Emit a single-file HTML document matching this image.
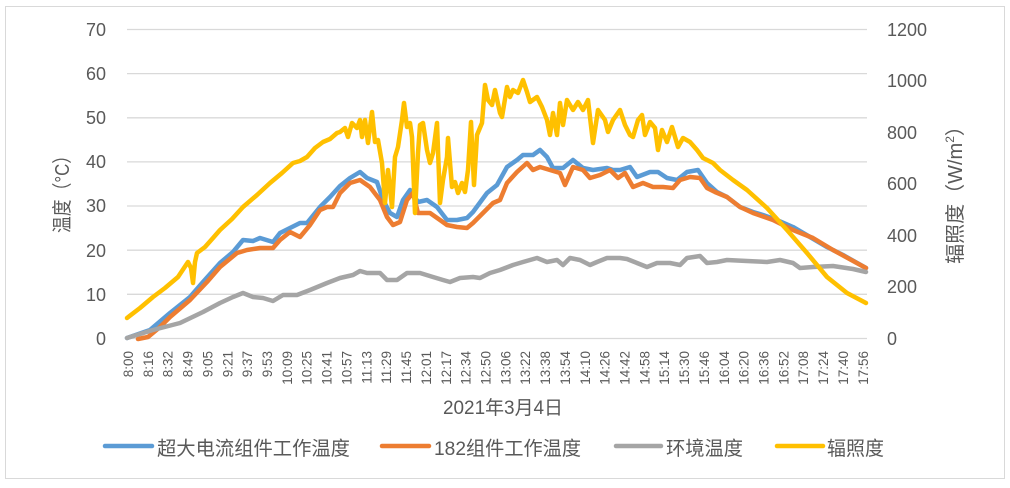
<!DOCTYPE html>
<html><head><meta charset="utf-8"><style>
html,body{margin:0;padding:0;background:#fff;}
svg{display:block;}
text{font-family:"Liberation Sans","Noto Sans CJK SC",sans-serif;fill:#595959;}
</style></head><body>
<svg width="1010" height="488" viewBox="0 0 1010 488" xmlns="http://www.w3.org/2000/svg">
<rect x="5.5" y="6.5" width="999" height="472" fill="#fff" stroke="#d9d9d9" stroke-width="1"/>
<g stroke="#d9d9d9" stroke-width="1.3">
<line x1="127" x2="867" y1="29.5" y2="29.5"/>
<line x1="127" x2="867" y1="73.6" y2="73.6"/>
<line x1="127" x2="867" y1="117.8" y2="117.8"/>
<line x1="127" x2="867" y1="161.9" y2="161.9"/>
<line x1="127" x2="867" y1="206" y2="206"/>
<line x1="127" x2="867" y1="250.2" y2="250.2"/>
<line x1="127" x2="867" y1="294.3" y2="294.3"/>
<line x1="127" x2="867" y1="338.5" y2="338.5"/>
</g>
<g font-size="18" text-anchor="end">
<text x="106" y="36">70</text>
<text x="106" y="80">60</text>
<text x="106" y="124">50</text>
<text x="106" y="168">40</text>
<text x="106" y="212">30</text>
<text x="106" y="257">20</text>
<text x="106" y="301">10</text>
<text x="106" y="345">0</text>
</g>
<g font-size="18" text-anchor="start">
<text x="887" y="36">1200</text>
<text x="887" y="87">1000</text>
<text x="887" y="139">800</text>
<text x="887" y="190">600</text>
<text x="887" y="242">400</text>
<text x="887" y="293">200</text>
<text x="887" y="345">0</text>
</g>
<text transform="translate(69,190) rotate(-90)" font-size="20" text-anchor="middle" textLength="86" lengthAdjust="spacingAndGlyphs">温度（°C）</text>
<text transform="translate(962,190) rotate(-90)" font-size="20" text-anchor="middle">辐照度（W/m<tspan font-size="12" dy="-8">2</tspan><tspan dy="8">）</tspan></text>
<g font-size="13.5" text-anchor="end">
<text transform="translate(133,351) rotate(-90)">8:00</text>
<text transform="translate(152.9,351) rotate(-90)">8:16</text>
<text transform="translate(172.7,351) rotate(-90)">8:32</text>
<text transform="translate(192.6,351) rotate(-90)">8:49</text>
<text transform="translate(212.4,351) rotate(-90)">9:05</text>
<text transform="translate(232.3,351) rotate(-90)">9:21</text>
<text transform="translate(252.2,351) rotate(-90)">9:37</text>
<text transform="translate(272,351) rotate(-90)">9:53</text>
<text transform="translate(291.9,351) rotate(-90)">10:09</text>
<text transform="translate(311.7,351) rotate(-90)">10:25</text>
<text transform="translate(331.6,351) rotate(-90)">10:41</text>
<text transform="translate(351.5,351) rotate(-90)">10:57</text>
<text transform="translate(371.3,351) rotate(-90)">11:13</text>
<text transform="translate(391.2,351) rotate(-90)">11:29</text>
<text transform="translate(411,351) rotate(-90)">11:45</text>
<text transform="translate(430.9,351) rotate(-90)">12:01</text>
<text transform="translate(450.8,351) rotate(-90)">12:17</text>
<text transform="translate(470.6,351) rotate(-90)">12:34</text>
<text transform="translate(490.5,351) rotate(-90)">12:50</text>
<text transform="translate(510.3,351) rotate(-90)">13:06</text>
<text transform="translate(530.2,351) rotate(-90)">13:22</text>
<text transform="translate(550.1,351) rotate(-90)">13:38</text>
<text transform="translate(569.9,351) rotate(-90)">13:54</text>
<text transform="translate(589.8,351) rotate(-90)">14:10</text>
<text transform="translate(609.6,351) rotate(-90)">14:26</text>
<text transform="translate(629.5,351) rotate(-90)">14:42</text>
<text transform="translate(649.4,351) rotate(-90)">14:58</text>
<text transform="translate(669.2,351) rotate(-90)">15:14</text>
<text transform="translate(689.1,351) rotate(-90)">15:30</text>
<text transform="translate(708.9,351) rotate(-90)">15:46</text>
<text transform="translate(728.8,351) rotate(-90)">16:04</text>
<text transform="translate(748.7,351) rotate(-90)">16:20</text>
<text transform="translate(768.5,351) rotate(-90)">16:36</text>
<text transform="translate(788.4,351) rotate(-90)">16:52</text>
<text transform="translate(808.2,351) rotate(-90)">17:08</text>
<text transform="translate(828.1,351) rotate(-90)">17:24</text>
<text transform="translate(848,351) rotate(-90)">17:40</text>
<text transform="translate(867.8,351) rotate(-90)">17:56</text>
</g>
<text x="503" y="414" font-size="19" text-anchor="middle" textLength="120" lengthAdjust="spacingAndGlyphs">2021年3月4日</text>
<g fill="none" stroke-width="4.5" stroke-linejoin="round" stroke-linecap="round">
<polyline stroke="#5B9BD5" points="127,338 150,330 170,313 190,297 203,282 220,263 233,252 243,240 253,241 260,238 273,242 280,233 290,228 300,223 307,223 320,207 330,197 340,186 350,178 360,172 367,178 377,182 383,200 390,213 397,217 403,200 410,190 418,202 427,200 437,207 447,220 457,220 467,218 473,212 487,193 497,185 507,167 517,160 523,155 533,155 540,150 547,157 553,168 563,168 573,160 583,168 593,170 607,168 613,170 620,170 630,167 637,177 650,172 658,172 667,178 677,180 687,172 698,170 707,183 717,192 727,197 740,207 753,212 763,215 777,220 793,227 810,237 827,247 843,255 866,268"/>
<polyline stroke="#ED7D31" points="138,339 148,337 160,327 170,317 190,300 207,282 220,267 237,253 247,250 260,248 273,248 280,240 290,232 300,237 310,225 320,210 327,207 333,207 340,193 350,183 360,180 370,187 380,200 387,217 393,225 400,222 407,200 413,193 418,213 430,213 440,220 447,225 457,227 467,228 473,223 483,213 493,203 500,200 507,183 517,172 527,163 533,170 540,167 550,170 560,173 565,185 573,167 583,170 590,178 600,175 610,170 618,178 625,173 633,187 643,183 653,187 663,187 673,188 680,180 690,177 700,178 707,188 715,192 727,197 740,207 753,213 773,220 793,230 813,238 833,250 866,268"/>
<polyline stroke="#A5A5A5" points="127,338 153,330 180,323 203,312 220,303 233,297 243,293 253,297 263,298 273,301 283,295 297,295 310,290 327,283 340,278 353,275 360,271 367,273 380,273 387,280 397,280 407,273 420,273 433,277 443,280 450,282 460,278 473,277 480,278 490,273 500,270 513,265 523,262 537,258 547,262 557,260 563,265 570,258 580,260 590,265 597,262 607,258 620,258 627,259 637,263 647,267 657,263 670,263 680,265 687,258 700,256 707,263 717,262 727,260 747,261 767,262 780,260 793,263 800,268 813,267 833,266 853,269 866,272"/>
<polyline stroke="#FFC000" points="127,318 140,308 153,297 165,288 178,277 188,262 191,268 193,283 195,262 197,253 205,247 213,238 220,230 232,219 243,207 257,195 270,183 282,173 293,163 300,161 307,157 315,148 323,142 330,139 337,133 340,132 345,128 348,137 352,123 357,128 360,120 362,137 365,120 368,143 372,112 375,142 378,140 382,163 385,203 388,170 392,207 395,157 398,147 402,120 404,103 407,127 410,123 412,137 415,213 418,153 420,125 423,123 427,150 430,163 433,153 437,123 440,203 443,180 447,157 448,138 452,187 455,182 458,193 462,183 465,192 468,170 471,122 474,185 477,135 482,123 485,85 488,100 492,105 495,90 500,113 502,117 507,87 510,97 513,90 518,93 523,80 527,92 530,102 537,97 542,107 547,120 550,135 553,113 557,135 560,103 563,125 567,100 573,110 578,102 583,110 588,100 593,143 598,110 605,120 608,132 613,120 620,110 625,125 630,135 633,137 638,120 642,115 645,135 650,122 655,128 658,150 662,130 667,142 672,127 678,147 683,138 690,142 697,150 703,158 713,163 720,170 733,180 747,190 767,208 787,230 807,253 827,277 847,293 866,303"/>
</g>
<g stroke-width="4.5" stroke-linecap="round">
<line x1="105" x2="152" y1="446" y2="446" stroke="#5B9BD5"/>
<line x1="382" x2="429" y1="446" y2="446" stroke="#ED7D31"/>
<line x1="616" x2="661" y1="446" y2="446" stroke="#A5A5A5"/>
<line x1="777" x2="823" y1="446" y2="446" stroke="#FFC000"/>
</g>
<g font-size="19.5">
<text x="157" y="455" textLength="193" lengthAdjust="spacingAndGlyphs">超大电流组件工作温度</text>
<text x="434" y="455" textLength="147" lengthAdjust="spacingAndGlyphs">182组件工作温度</text>
<text x="666" y="455" textLength="77" lengthAdjust="spacingAndGlyphs">环境温度</text>
<text x="827" y="455" textLength="57" lengthAdjust="spacingAndGlyphs">辐照度</text>
</g>
</svg>
</body></html>
